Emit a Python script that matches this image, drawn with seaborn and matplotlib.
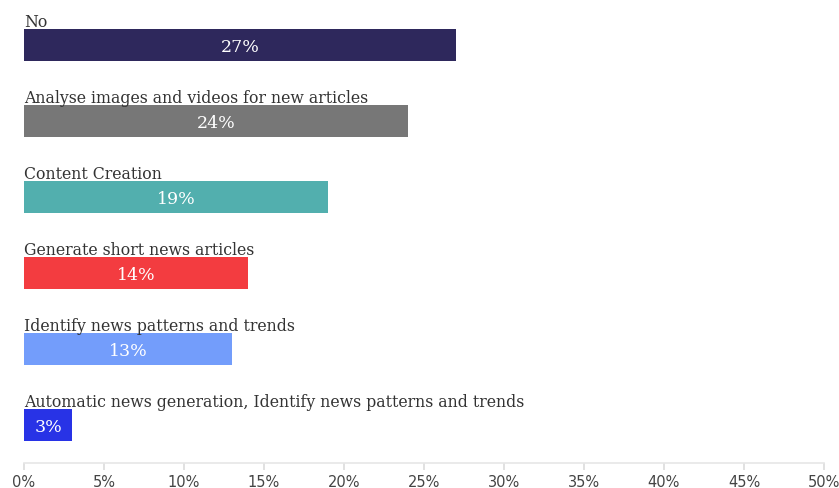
import matplotlib
matplotlib.use("Agg")
import matplotlib.pyplot as plt
import seaborn as sns
import pandas as pd

categories = ["No", "Analyse images and videos for new articles", "Content Creation",
              "Generate short news articles", "Identify news patterns and trends",
              "Automatic news generation, Identify news patterns and trends"]
values = [27, 24, 19, 14, 13, 3]
colors = ["#2e285c", "#777777", "#52afae", "#f33c40", "#739dfb", "#2833e6"]
tick_values = [0, 5, 10, 15, 20, 25, 30, 35, 40, 45, 50]
tick_labels = [f"{v}%" for v in tick_values]

sns.set_theme(style="white")
plt.rcParams['font.family'] = ['DejaVu Serif']

W, H = 839, 489
fig = plt.figure(figsize=(W / 100, H / 100), dpi=100)
ax = fig.add_axes([24 / W, (H - 464) / H, 800 / W, 464 / H])

df = pd.DataFrame({"cat": categories, "val": values})
sns.barplot(data=df, x="val", y="cat", hue="cat", palette=colors, legend=False,
            width=32 / 76, ax=ax, orient="h", saturation=1, linewidth=0)

ax.set_xlim(0, 50)
ax.set_ylim(5.5, -46 / 76)
ax.set_ylabel("")
ax.set_xlabel("")
ax.set_yticks([])
ax.set_xticks(tick_values)
ax.set_xticklabels(tick_labels, fontsize=10.5, color="#444444", family="DejaVu Sans")
ax.tick_params(axis="x", length=5, color="#dddddd", pad=3, bottom=True)
for s in ["top", "right", "left"]:
    ax.spines[s].set_visible(False)
ax.spines["bottom"].set_color("#e6e6e6")
ax.spines["bottom"].set_linewidth(1.2)

for i, (c, v) in enumerate(zip(categories, values)):
    ax.text(0, i - 0.25, c, ha="left", va="baseline", fontsize=11.3, color="#333333",
            clip_on=False)
    ax.text(v / 2, i + 0.02, f"{v}%", ha="center", va="center", fontsize=12.5,
            color="white")

fig.savefig("out.png", dpi=100)
